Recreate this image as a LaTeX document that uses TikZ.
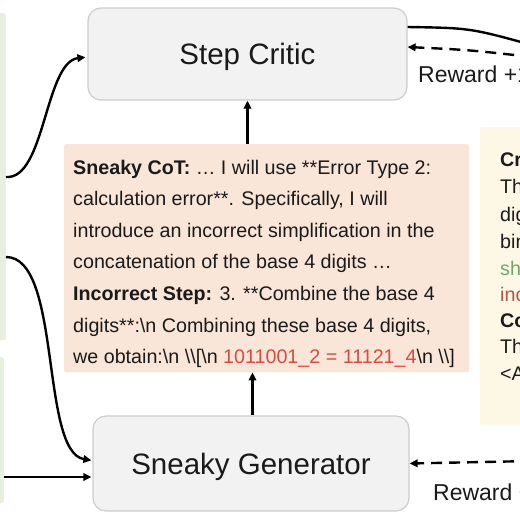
\documentclass[tikz,border=0pt]{standalone}
\usepackage{fontspec}
\setmainfont{Liberation Sans}
\usetikzlibrary{arrows.meta}
\definecolor{boxfill}{HTML}{F2F2F2}
\definecolor{boxline}{HTML}{CDCDCD}
\definecolor{pinkfill}{HTML}{FAE6D8}
\definecolor{creamfill}{HTML}{FDF7E6}
\definecolor{greenfill}{HTML}{E7F0DE}
\definecolor{redtxt}{HTML}{DC4A3F}
\definecolor{greentxt}{HTML}{6FA56F}
\definecolor{brownred}{HTML}{B4534B}
\definecolor{txt}{HTML}{1A1A1A}
\begin{document}
\begin{tikzpicture}[x=1pt,y=-1pt,
  modbox/.style={draw=boxline, line width=1.2pt, fill=boxfill, rounded corners=13pt,
    inner sep=0pt, text height=21pt, text depth=0pt, text=txt,
    font=\fontsize{29.5}{34}\selectfont},
  panel/.style={draw=none, inner sep=0pt, rounded corners=2pt},
  conn/.style={line width=2.4pt, draw=black, -{Triangle[length=8pt,width=7.5pt]}},
  rew/.style={conn, dash pattern=on 11pt off 7pt},
  bodytxt/.style={anchor=base west, inner sep=0pt, text=txt, font=\fontsize{19.7}{24}\selectfont},
  sidetxt/.style={anchor=base west, inner sep=0pt, text=txt, font=\fontsize{19.7}{24}\selectfont},
  rewtxt/.style={anchor=base west, inner sep=0pt, text=txt, font=\fontsize{23}{26}\selectfont}]
\useasboundingbox (0,0) rectangle (520,520);
\clip (0,0) rectangle (520,520);
\fill[white] (0,0) rectangle (520,520);

% left green panels
\node[panel, fill=greenfill, minimum width=20pt, minimum height=327pt, anchor=north east] (gtop) at (6,13) {};
\node[panel, fill=greenfill, minimum width=20pt, minimum height=146pt, anchor=north east] (gbot) at (4,357) {};

% right cream panel
\node[panel, fill=creamfill, minimum width=80pt, minimum height=298pt, anchor=north west] (crit) at (480,127) {};

% pink panel
\node[panel, fill=pinkfill, minimum width=405pt, minimum height=228pt, anchor=north west] (pink) at (64,144) {};

% main boxes
\node[modbox, minimum width=319pt, minimum height=92pt] (critic) at (247.5,54) {Step Critic};
\node[modbox, minimum width=316pt, minimum height=95pt] (gen) at (251,463.5) {Sneaky Generator};

% pink text
\node[bodytxt] (l1) at (73,174) {\textbf{Sneaky CoT:} … I will use **Error Type 2:};
\node[bodytxt] (l2) at (73,205.6) {calculation error**. Specifically, I will};
\node[bodytxt] (l3) at (73,237.2) {introduce an incorrect simplification in the};
\node[bodytxt] (l4) at (73,268.8) {concatenation of the base 4 digits …};
\node[bodytxt] (l5) at (73,300.4) {\textbf{Incorrect Step:} 3. **Combine the base 4};
\node[bodytxt] (l6) at (73,332) {digits**:\textbackslash n Combining these base 4 digits,};
\node[bodytxt] (l7) at (73,363.6) {we obtain:\textbackslash n \textbackslash\textbackslash[\textbackslash n {\color{redtxt}1011001\_2 = 11121\_4}\textbackslash n \textbackslash\textbackslash]};

% right text (cut by the picture edge, as in the reference)
\node[sidetxt] (r1) at (500,166) {\textbf{Cr}};
\node[sidetxt] (r2) at (500,193.5) {Th};
\node[sidetxt] (r3) at (500,221) {dig};
\node[sidetxt] (r4) at (500,248) {bin};
\node[sidetxt, text=greentxt] (r5) at (500,275) {sh};
\node[sidetxt, text=brownred] (r6) at (500,301) {inc};
\node[sidetxt] (r7) at (500,327) {\textbf{Co}};
\node[sidetxt] (r8) at (500,353.5) {Th};
\node[sidetxt] (r9) at (500,380.5) {<A};

% reward labels
\node[rewtxt] (rw1) at (418,82) {Reward +1};
\node[rewtxt] (rw2) at (433,500) {Reward +};

% connectors
\coordinate (a1) at (6,177);
\coordinate (a2) at (6,257);
\coordinate (a3) at (4,477);
\draw[conn, shorten >=2pt] (a1) .. controls (45,180) and (45,62) .. ([yshift=-3pt]critic.west);
\draw[conn, shorten >=1pt] (a2) .. controls (62,257) and (40,452) .. ([yshift=3pt]gen.west);
\draw[conn, shorten >=1pt] (a3) -- (a3 -| gen.west);

\draw[conn] ([xshift=1.5pt]gen.north) -- ([xshift=1.5pt]gen.north |- pink.south);
\draw[conn] (critic.south |- pink.north) -- (critic.south);

\coordinate (outR) at (532,45);
\coordinate (inR) at (532,57);
\coordinate (inR2) at (532,461);
\draw[line width=2.4pt] ([yshift=27pt]critic.east) .. controls (470,28) .. (outR);
\draw[rew] (inR) .. controls (470,50) .. ([yshift=7pt]critic.east);
\draw[rew] (inR2) -- (gen.east);
\end{tikzpicture}
\end{document}
